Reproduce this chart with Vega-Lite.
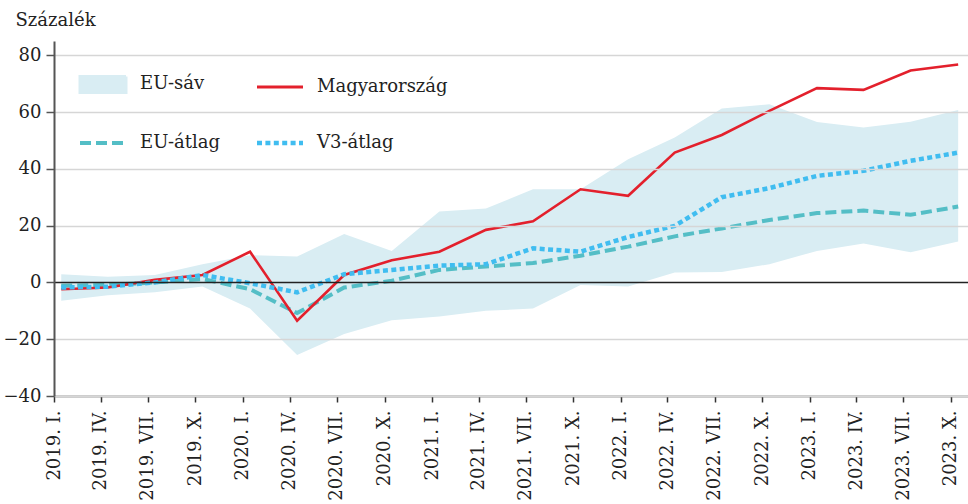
{
  "$schema": "https://vega.github.io/schema/vega-lite/v6.json",
  "width": 914,
  "height": 355,
  "autosize": {"type": "none"},
  "padding": {"left": 54, "top": 41, "right": 0, "bottom": 108},
  "background": "white",
  "config": {
    "view": {"stroke": null},
    "font": "DejaVu Serif",
    "axis": {"labelFont": "DejaVu Serif", "titleFont": "DejaVu Serif", "labelColor": "#222", "titleColor": "#222"},
    "legend": {"labelFont": "DejaVu Serif"}
  },
  "datasets": {
    "band": [
      {"date": "2019-01-15", "series": "EU-sáv", "lo": -6.5, "hi": 2.9},
      {"date": "2019-04-15", "series": "EU-sáv", "lo": -4.5, "hi": 2.0},
      {"date": "2019-07-15", "series": "EU-sáv", "lo": -3.5, "hi": 2.6},
      {"date": "2019-10-15", "series": "EU-sáv", "lo": -1.4, "hi": 6.4},
      {"date": "2020-01-15", "series": "EU-sáv", "lo": -9.2, "hi": 9.6},
      {"date": "2020-04-15", "series": "EU-sáv", "lo": -25.6, "hi": 9.1},
      {"date": "2020-07-15", "series": "EU-sáv", "lo": -18.2, "hi": 17.0},
      {"date": "2020-10-15", "series": "EU-sáv", "lo": -13.3, "hi": 11.1},
      {"date": "2021-01-15", "series": "EU-sáv", "lo": -12.0, "hi": 25.0},
      {"date": "2021-04-15", "series": "EU-sáv", "lo": -10.0, "hi": 26.0},
      {"date": "2021-07-15", "series": "EU-sáv", "lo": -9.2, "hi": 32.8},
      {"date": "2021-10-15", "series": "EU-sáv", "lo": -0.9, "hi": 32.8},
      {"date": "2022-01-15", "series": "EU-sáv", "lo": -1.4, "hi": 43.4},
      {"date": "2022-04-15", "series": "EU-sáv", "lo": 3.5, "hi": 51.0},
      {"date": "2022-07-15", "series": "EU-sáv", "lo": 3.7, "hi": 61.2},
      {"date": "2022-10-15", "series": "EU-sáv", "lo": 6.4, "hi": 62.7},
      {"date": "2023-01-15", "series": "EU-sáv", "lo": 11.1, "hi": 56.5},
      {"date": "2023-04-15", "series": "EU-sáv", "lo": 13.7, "hi": 54.5},
      {"date": "2023-07-15", "series": "EU-sáv", "lo": 10.6, "hi": 56.6},
      {"date": "2023-10-15", "series": "EU-sáv", "lo": 14.4, "hi": 60.7}
    ],
    "lines": [
      {"date": "2019-01-15", "series": "Magyarország", "value": -2.4},
      {"date": "2019-04-15", "series": "Magyarország", "value": -1.8},
      {"date": "2019-07-15", "series": "Magyarország", "value": 0.9},
      {"date": "2019-10-15", "series": "Magyarország", "value": 2.6},
      {"date": "2020-01-15", "series": "Magyarország", "value": 10.8},
      {"date": "2020-04-15", "series": "Magyarország", "value": -13.5},
      {"date": "2020-07-15", "series": "Magyarország", "value": 2.6},
      {"date": "2020-10-15", "series": "Magyarország", "value": 7.8},
      {"date": "2021-01-15", "series": "Magyarország", "value": 10.8},
      {"date": "2021-04-15", "series": "Magyarország", "value": 18.5},
      {"date": "2021-07-15", "series": "Magyarország", "value": 21.5},
      {"date": "2021-10-15", "series": "Magyarország", "value": 32.8},
      {"date": "2022-01-15", "series": "Magyarország", "value": 30.5},
      {"date": "2022-04-15", "series": "Magyarország", "value": 45.7},
      {"date": "2022-07-15", "series": "Magyarország", "value": 51.9},
      {"date": "2022-10-15", "series": "Magyarország", "value": 60.4},
      {"date": "2023-01-15", "series": "Magyarország", "value": 68.4},
      {"date": "2023-04-15", "series": "Magyarország", "value": 67.8},
      {"date": "2023-07-15", "series": "Magyarország", "value": 74.6},
      {"date": "2023-10-15", "series": "Magyarország", "value": 76.7},
      {"date": "2019-01-15", "series": "EU-átlag", "value": -1.2},
      {"date": "2019-04-15", "series": "EU-átlag", "value": -0.9},
      {"date": "2019-07-15", "series": "EU-átlag", "value": 0.0},
      {"date": "2019-10-15", "series": "EU-átlag", "value": 1.2},
      {"date": "2020-01-15", "series": "EU-átlag", "value": -2.4},
      {"date": "2020-04-15", "series": "EU-átlag", "value": -10.8},
      {"date": "2020-07-15", "series": "EU-átlag", "value": -1.8},
      {"date": "2020-10-15", "series": "EU-átlag", "value": 0.6},
      {"date": "2021-01-15", "series": "EU-átlag", "value": 4.4},
      {"date": "2021-04-15", "series": "EU-átlag", "value": 5.6},
      {"date": "2021-07-15", "series": "EU-átlag", "value": 6.8},
      {"date": "2021-10-15", "series": "EU-átlag", "value": 9.4},
      {"date": "2022-01-15", "series": "EU-átlag", "value": 12.6},
      {"date": "2022-04-15", "series": "EU-átlag", "value": 16.2},
      {"date": "2022-07-15", "series": "EU-átlag", "value": 19.0},
      {"date": "2022-10-15", "series": "EU-átlag", "value": 22.0},
      {"date": "2023-01-15", "series": "EU-átlag", "value": 24.4},
      {"date": "2023-04-15", "series": "EU-átlag", "value": 25.3},
      {"date": "2023-07-15", "series": "EU-átlag", "value": 23.8},
      {"date": "2023-10-15", "series": "EU-átlag", "value": 26.7},
      {"date": "2019-01-15", "series": "V3-átlag", "value": -1.8},
      {"date": "2019-04-15", "series": "V3-átlag", "value": -1.5},
      {"date": "2019-07-15", "series": "V3-átlag", "value": 0.0},
      {"date": "2019-10-15", "series": "V3-átlag", "value": 2.6},
      {"date": "2020-01-15", "series": "V3-átlag", "value": -0.3},
      {"date": "2020-04-15", "series": "V3-átlag", "value": -3.5},
      {"date": "2020-07-15", "series": "V3-átlag", "value": 2.9},
      {"date": "2020-10-15", "series": "V3-átlag", "value": 4.4},
      {"date": "2021-01-15", "series": "V3-átlag", "value": 5.9},
      {"date": "2021-04-15", "series": "V3-átlag", "value": 6.4},
      {"date": "2021-07-15", "series": "V3-átlag", "value": 12.0},
      {"date": "2021-10-15", "series": "V3-átlag", "value": 10.8},
      {"date": "2022-01-15", "series": "V3-átlag", "value": 16.0},
      {"date": "2022-04-15", "series": "V3-átlag", "value": 19.9},
      {"date": "2022-07-15", "series": "V3-átlag", "value": 30.0},
      {"date": "2022-10-15", "series": "V3-átlag", "value": 33.2},
      {"date": "2023-01-15", "series": "V3-átlag", "value": 37.5},
      {"date": "2023-04-15", "series": "V3-átlag", "value": 39.3},
      {"date": "2023-07-15", "series": "V3-átlag", "value": 42.8},
      {"date": "2023-10-15", "series": "V3-átlag", "value": 45.7}
    ]
  },
  "encoding": {
    "x": {
      "field": "date",
      "type": "temporal",
      "scale": {
        "type": "utc",
        "domain": [
          {"year": 2019, "month": 1, "date": 1, "utc": true},
          {"year": 2023, "month": 11, "date": 3, "utc": true}
        ]
      },
      "axis": {
        "title": null,
        "grid": false,
        "values": [
          {"year": 2019, "month": 1, "date": 1, "utc": true},
          {"year": 2019, "month": 4, "date": 1, "utc": true},
          {"year": 2019, "month": 7, "date": 1, "utc": true},
          {"year": 2019, "month": 10, "date": 1, "utc": true},
          {"year": 2020, "month": 1, "date": 1, "utc": true},
          {"year": 2020, "month": 4, "date": 1, "utc": true},
          {"year": 2020, "month": 7, "date": 1, "utc": true},
          {"year": 2020, "month": 10, "date": 1, "utc": true},
          {"year": 2021, "month": 1, "date": 1, "utc": true},
          {"year": 2021, "month": 4, "date": 1, "utc": true},
          {"year": 2021, "month": 7, "date": 1, "utc": true},
          {"year": 2021, "month": 10, "date": 1, "utc": true},
          {"year": 2022, "month": 1, "date": 1, "utc": true},
          {"year": 2022, "month": 4, "date": 1, "utc": true},
          {"year": 2022, "month": 7, "date": 1, "utc": true},
          {"year": 2022, "month": 10, "date": 1, "utc": true},
          {"year": 2023, "month": 1, "date": 1, "utc": true},
          {"year": 2023, "month": 4, "date": 1, "utc": true},
          {"year": 2023, "month": 7, "date": 1, "utc": true},
          {"year": 2023, "month": 10, "date": 1, "utc": true}
        ],
        "labelExpr": "utcFormat(datum.value, '%Y') + '. ' + ['I','II','III','IV','V','VI','VII','VIII','IX','X','XI','XII'][utcmonth(datum.value)] + '.'",
        "labelAngle": -90,
        "labelFontSize": 18,
        "labelPadding": 8,
        "labelOverlap": false,
        "labelBound": false,
        "labelFlush": false,
        "domainColor": "#333",
        "domainWidth": 1.5,
        "tickColor": "#333",
        "tickWidth": 1.5,
        "tickSize": 6
      }
    }
  },
  "layer": [
    {
      "data": {"name": "band"},
      "mark": {"type": "area", "opacity": 1},
      "encoding": {
        "y": {
          "field": "lo",
          "type": "quantitative",
          "scale": {"domain": [-40, 85], "nice": false, "zero": false},
          "axis": {
            "title": "Százalék",
            "titleAngle": 0,
            "titleAlign": "left",
            "titleBaseline": "alphabetic",
            "titleX": -39,
            "titleY": -16,
            "titleFontSize": 18,
            "titleFontWeight": "normal",
            "values": [-40, -20, 0, 20, 40, 60, 80],
            "labelFontSize": 18,
            "labelPadding": 5,
            "grid": true,
            "gridColor": {"condition": {"test": "datum.value === 0", "value": "#222"}, "value": "#d6d6d6"},
            "gridWidth": 1.5,
            "domainColor": "#555",
            "domainWidth": 2,
            "tickColor": "#555",
            "tickWidth": 1.5,
            "tickSize": 8,
            "zindex": 1
          }
        },
        "y2": {"field": "hi"},
        "color": {
          "field": "series",
          "type": "nominal",
          "scale": {
            "domain": ["EU-sáv", "EU-átlag", "Magyarország", "V3-átlag"],
            "range": ["#d9edf3", "#54bec6", "#e3202c", "#40bdf0"]
          },
          "legend": {
            "title": null,
            "orient": "none",
            "legendX": 40,
            "legendY": 34,
            "columns": 2,
            "columnPadding": 27,
            "rowPadding": 35,
            "padding": 0,
            "labelFontSize": 18,
            "labelColor": "#222",
            "labelOffset": 28,
            "symbolSize": 2116,
            "symbolStrokeWidth": 3,
            "symbolOpacity": 1,
            "encoding": {
              "symbols": {
                "shape": {"value": {"expr": "datum.value === 'EU-sáv' ? 'M-1,-0.35L1,-0.35L1,0.35L-1,0.35Z' : 'stroke'"}},
                "fill": {"value": {"expr": "datum.value === 'EU-sáv' ? '#d9edf3' : 'transparent'"}},
                "stroke": {"value": {"expr": "datum.value === 'EU-sáv' ? 'transparent' : datum.value === 'Magyarország' ? '#e3202c' : datum.value === 'EU-átlag' ? '#54bec6' : '#40bdf0'"}},
                "strokeDash": {"value": {"expr": "datum.value === 'EU-átlag' ? [11,5] : datum.value === 'V3-átlag' ? [5,3.4] : [1,0]"}},
                "strokeWidth": {"value": {"expr": "datum.value === 'EU-átlag' ? 4 : datum.value === 'V3-átlag' ? 4.5 : 3"}},
                "opacity": {"value": 1}
              }
            }
          }
        }
      }
    },
    {
      "data": {"name": "lines"},
      "transform": [{"filter": "datum.series === 'EU-átlag'"}],
      "mark": {"type": "line", "strokeWidth": 4, "strokeDash": [11, 5]},
      "encoding": {
        "y": {"field": "value", "type": "quantitative"},
        "color": {"field": "series", "type": "nominal"}
      }
    },
    {
      "data": {"name": "lines"},
      "transform": [{"filter": "datum.series === 'Magyarország'"}],
      "mark": {"type": "line", "strokeWidth": 2.6},
      "encoding": {
        "y": {"field": "value", "type": "quantitative"},
        "color": {"field": "series", "type": "nominal"}
      }
    },
    {
      "data": {"name": "lines"},
      "transform": [{"filter": "datum.series === 'V3-átlag'"}],
      "mark": {"type": "line", "strokeWidth": 4.5, "strokeDash": [5, 3.4]},
      "encoding": {
        "y": {"field": "value", "type": "quantitative"},
        "color": {"field": "series", "type": "nominal"}
      }
    }
  ]
}
